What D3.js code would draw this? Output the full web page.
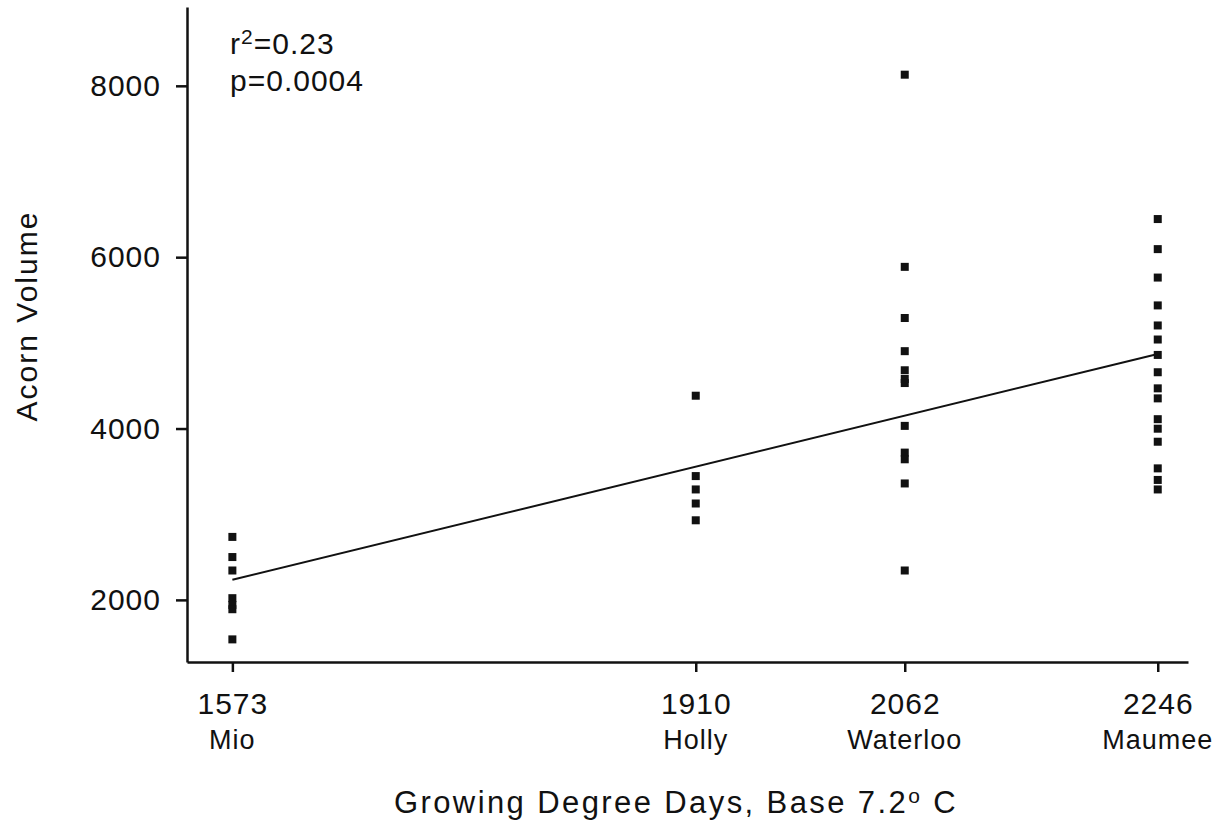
<!DOCTYPE html>
<html>
<head>
<meta charset="utf-8">
<script src="https://cdn.jsdelivr.net/npm/d3@7"></script>
<style>
body { margin: 0; background: #fff; }
text { font-family: "Liberation Sans", Arial, sans-serif; fill: #111; }
</style>
</head>
<body>
<script>
// sites and their growing degree days (base 7.2 C)
var sites = ['Mio', 'Holly', 'Waterloo', 'Maumee'];
var gdd = [1573, 1910, 2062, 2246];

// acorn volume per tree
var mioVol = [2735, 2500, 2343, 2020, 1941, 1891, 1539];
var hollyVol = [4383, 3445, 3289, 3125, 2929];
var waterlooVol = [8130, 5887, 5290, 4903, 4680, 4578, 4531, 4031, 3719, 3641, 3359, 2343];
var maumeeVol = [6445, 6094, 5762, 5437, 5203, 5039, 4859, 4657, 4469, 4352, 4109, 3998, 3846, 3535, 3400, 3289];

// regression line end points
var fitGdd = [1573, 2246];
var fitVol = [2234, 4871];

var yTicks = [2000, 4000, 6000, 8000];

var W = 1217, H = 831;

var svg = d3.select("body").append("svg")
	.attr("width", W)
	.attr("height", H);

var x = d3.scaleLinear().domain([1540, 2268]).range([187, 1188]);
var y = d3.scaleLinear().domain([1275, 8920]).range([662, 7]);

var volumes = [mioVol, hollyVol, waterlooVol, maumeeVol];
var points = [];
for (var i = 0; i < gdd.length; i++) {
	for (var j = 0; j < volumes[i].length; j++) {
		points.push({g: gdd[i], v: volumes[i][j]});
	}
}

// y axis
svg.append("g")
	.attr("transform", "translate(187,0)")
	.call(d3.axisLeft(y).tickValues(yTicks).tickSize(11).tickSizeOuter(0).tickPadding(15).tickFormat(d3.format("d")));

// x axis
svg.append("g")
	.attr("transform", "translate(0,662)")
	.call(d3.axisBottom(x).tickValues(gdd).tickSize(10).tickSizeOuter(0).tickPadding(21).tickFormat(d3.format("d")));

svg.selectAll(".domain").attr("stroke", "#111").attr("stroke-width", 2.5);
svg.selectAll(".tick line").attr("stroke", "#111").attr("stroke-width", 2.5);
svg.selectAll(".tick text")
	.attr("fill", "#111")
	.style("font-size", "30px")
	.style("letter-spacing", "1px");

// site names under the gdd labels
svg.selectAll(".site")
	.data(sites)
	.enter()
	.append("text")
	.attr("class", "site")
	.attr("x", function (d, i) { return x(gdd[i]); })
	.attr("y", 749)
	.attr("text-anchor", "middle")
	.style("font-size", "27px")
	.style("letter-spacing", "1px")
	.text(function (d) { return d; });

// regression line
var line = d3.line()
	.x(function (d) { return x(d[0]); })
	.y(function (d) { return y(d[1]); });

svg.append("path")
	.datum(d3.zip(fitGdd, fitVol))
	.attr("d", line)
	.attr("fill", "none")
	.attr("stroke", "#111")
	.attr("stroke-width", 2);

// points
var s = 8;
svg.selectAll(".pt")
	.data(points)
	.enter()
	.append("rect")
	.attr("class", "pt")
	.attr("x", function (d) { return x(d.g) - s / 2; })
	.attr("y", function (d) { return y(d.v) - s / 2; })
	.attr("width", s)
	.attr("height", s)
	.attr("fill", "#111");

// stats
var r2 = svg.append("text")
	.attr("x", 230)
	.attr("y", 54)
	.style("font-size", "30px")
	.style("letter-spacing", "1px");
r2.append("tspan").text("r");
r2.append("tspan").attr("dy", -10).style("font-size", "21px").text("2");
r2.append("tspan").attr("dy", 10).text("=0.23");

svg.append("text")
	.attr("x", 230)
	.attr("y", 91)
	.style("font-size", "30px")
	.style("letter-spacing", "1px")
	.text("p=0.0004");

// axis titles
svg.append("text")
	.attr("transform", "translate(37,316) rotate(-90)")
	.attr("text-anchor", "middle")
	.style("font-size", "30px")
	.style("letter-spacing", "2px")
	.text("Acorn Volume");

var xt = svg.append("text")
	.attr("x", 676)
	.attr("y", 813)
	.attr("text-anchor", "middle")
	.style("font-size", "31px")
	.style("letter-spacing", "2.4px");
xt.append("tspan").text("Growing Degree Days, Base 7.2");
xt.append("tspan").attr("dy", -10).style("font-size", "21px").text("o");
xt.append("tspan").attr("dy", 10).text(" C");
</script>
</body>
</html>
